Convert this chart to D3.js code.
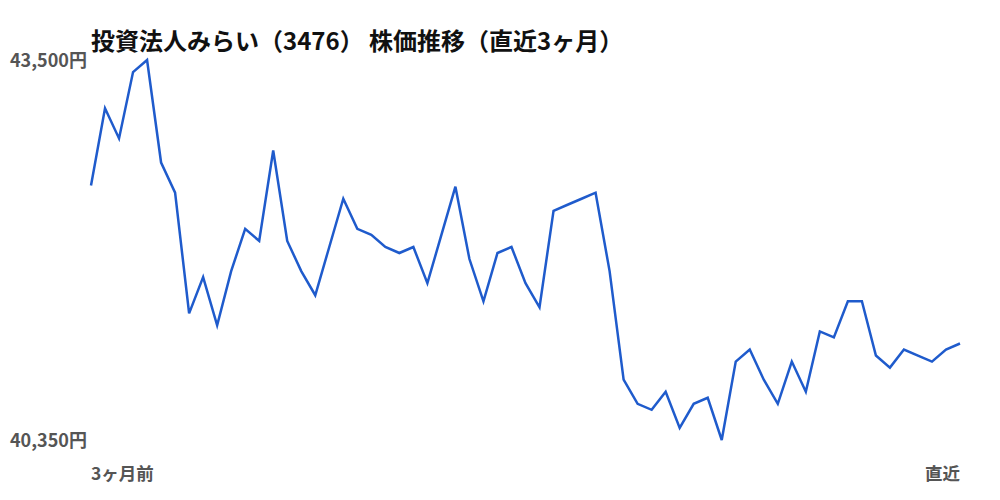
<!DOCTYPE html>
<html>
<head>
<meta charset="utf-8">
<script src="https://cdn.jsdelivr.net/npm/d3@7"></script>
<style>
  body { margin: 0; background: #fff; }
  text { font-family: "Noto Sans CJK JP", "Noto Sans", sans-serif; }
</style>
</head>
<body>
<div id="chart"></div>
<script>
const TITLE = '投資法人みらい（3476） 株価推移（直近3ヶ月）'
const X_LABELS = ['3ヶ月前', '直近']
const Y_LABELS = ['43,500円', '40,350円']
const Y_DOMAIN = [40350, 43500]

// 終値（古い順）
const PRICES = [
  42460, 43100, 42850, 43400, 43500, 42650, 42400, 41400, 41700, 41300,
  41750, 42100, 42000, 42750, 42000, 41750, 41550, 41950, 42350, 42100,
  42050, 41950, 41900, 41950, 41650, 42050, 42450, 41850, 41500, 41900,
  41950, 41650, 41450, 42250, 42300, 42350, 42400, 41750, 40850, 40650,
  40600, 40750, 40450, 40650, 40700, 40350, 41000, 41100, 40850, 40650,
  41000, 40750, 41250, 41200, 41500, 41500, 41050, 40950, 41100, 41050,
  41000, 41100, 41150
]

const width = 1000
const height = 500

const xScale = d3.scaleLinear().domain([0, PRICES.length - 1]).range([91, 960])
const yScale = d3.scaleLinear().domain(Y_DOMAIN).range([440, 60])

const svg = d3.select('#chart')
  .append('svg')
  .attr('width', width)
  .attr('height', height)

svg.append('text')
  .attr('x', 91)
  .attr('y', 43)
  .attr('dominant-baseline', 'middle')
  .style('font-size', '24px')
  .style('font-weight', 'bold')
  .style('fill', '#111')
  .text(TITLE)

// y軸の上限・下限ラベル
svg.selectAll('.ylab')
  .data(Y_LABELS)
  .enter()
  .append('text')
  .attr('x', 10)
  .attr('y', (d, i) => yScale(Y_DOMAIN[1 - i]) + 2)
  .attr('dominant-baseline', 'middle')
  .style('font-size', '18px')
  .style('font-weight', 'bold')
  .style('fill', '#555')
  .text(d => d)

svg.selectAll('.xlab')
  .data(X_LABELS)
  .enter()
  .append('text')
  .attr('x', (d, i) => xScale(i * (PRICES.length - 1)))
  .attr('y', 475)
  .attr('dominant-baseline', 'middle')
  .attr('text-anchor', (d, i) => i ? 'end' : 'start')
  .style('font-size', '17.5px')
  .style('font-weight', 'bold')
  .style('fill', '#555')
  .text(d => d)

const line = d3.line()
  .x((d, i) => xScale(i))
  .y(d => yScale(d))

svg.append('path')
  .datum(PRICES)
  .attr('d', line)
  .attr('fill', 'none')
  .attr('stroke', '#1f5bcc')
  .attr('stroke-width', 2.5)
  .attr('stroke-linejoin', 'miter')
</script>
</body>
</html>
